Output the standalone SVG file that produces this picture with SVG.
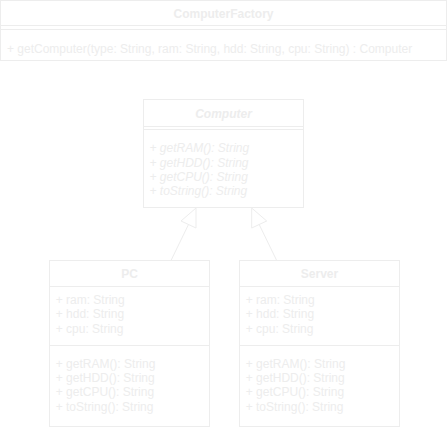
<svg xmlns="http://www.w3.org/2000/svg" width="447" height="430" viewBox="0 0 447 430">
<style>
.b{fill:none;stroke:#ededed;stroke-width:1}
text{font-family:"Liberation Sans",Arial,sans-serif;font-size:12px;fill:#ededed}
.h{font-weight:bold;text-anchor:middle}
.i{font-style:italic}
.c{fill:none;stroke:#ededed;stroke-width:1}
</style>
<g id="ComputerFactory">
<rect class="b" x="0.5" y="0.5" width="446" height="25"/>
<rect class="b" x="0.5" y="25.5" width="446" height="4"/>
<rect class="b" x="0.5" y="29.5" width="446" height="31"/>
<text class="h" x="223.5" y="18">ComputerFactory</text>
<text x="7" y="53">+ getComputer(type: String, ram: String, hdd: String, cpu: String) : Computer</text>
</g>
<g id="Computer">
<rect class="b" x="143.5" y="99.5" width="160" height="27"/>
<rect class="b" x="143.5" y="126.5" width="160" height="3"/>
<rect class="b" x="143.5" y="129.5" width="160" height="78"/>
<text class="h i" x="223.5" y="117.5">Computer</text>
<text class="i" x="149.5" y="152.3">+ getRAM(): String</text>
<text class="i" x="149.5" y="166.6">+ getHDD(): String</text>
<text class="i" x="149.5" y="180.9">+ getCPU(): String</text>
<text class="i" x="149.5" y="195.2">+ toString(): String</text>
</g>
<g id="PC">
<rect class="b" x="49.5" y="260.5" width="160" height="26"/>
<rect class="b" x="49.5" y="286.5" width="160" height="59"/>
<rect class="b" x="49.5" y="345.5" width="160" height="81"/>
<text class="h" x="129.5" y="277.7">PC</text>
<text x="55.7" y="304">+ ram: String</text>
<text x="55.7" y="318.3">+ hdd: String</text>
<text x="55.7" y="332.5">+ cpu: String</text>
<text x="55.7" y="367.6">+ getRAM(): String</text>
<text x="55.7" y="381.9">+ getHDD(): String</text>
<text x="55.7" y="396.2">+ getCPU(): String</text>
<text x="55.7" y="410.5">+ toString(): String</text>
</g>
<g id="Server">
<rect class="b" x="239.5" y="260.5" width="160" height="26"/>
<rect class="b" x="239.5" y="286.5" width="160" height="59"/>
<rect class="b" x="239.5" y="345.5" width="160" height="81"/>
<text class="h" x="319.5" y="277.7">Server</text>
<text x="245.7" y="304">+ ram: String</text>
<text x="245.7" y="318.3">+ hdd: String</text>
<text x="245.7" y="332.5">+ cpu: String</text>
<text x="245.7" y="367.6">+ getRAM(): String</text>
<text x="245.7" y="381.9">+ getHDD(): String</text>
<text x="245.7" y="396.2">+ getCPU(): String</text>
<text x="245.7" y="410.5">+ toString(): String</text>
</g>
<g id="connectors">
<path class="c" d="M171 260.5 L188.5 224.5"/>
<polygon class="c" points="196,208 181,221 196,228"/>
<path class="c" d="M276.7 260.5 L259.2 224.5"/>
<polygon class="c" points="251.7,208 266.7,221 251.7,228"/>
</g>
</svg>
